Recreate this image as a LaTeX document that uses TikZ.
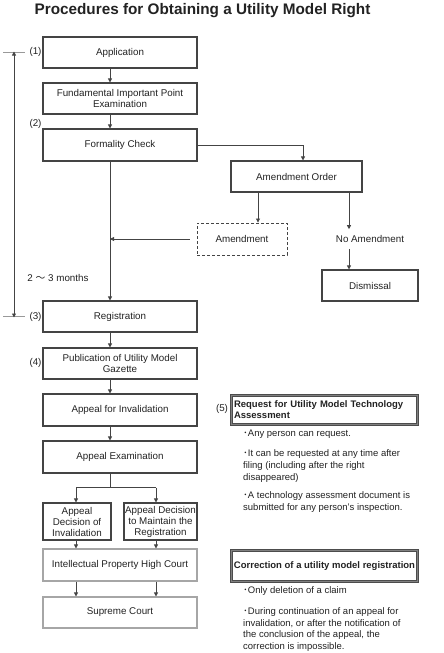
\documentclass[tikz,border=0pt]{standalone}
\usepackage{fontspec}
\setmainfont{Liberation Sans}
\newfontfamily\cjk{Noto Sans CJK JP}
\usetikzlibrary{arrows.meta}
\definecolor{ink}{HTML}{222222}
\definecolor{edge}{HTML}{444444}
\begin{document}
\begin{tikzpicture}[x=1pt,y=-1pt,
  txt/.style={font=\fontsize{9.8}{11}\selectfont, text=ink},
  box/.style={txt, draw=edge, line width=1.1pt, minimum width=154pt, minimum height=31pt, align=center, inner sep=1pt},
  lightbox/.style={box, draw=black!35},
  dashbox/.style={box, densely dashed, line width=0.9pt},
  dblbox/.style={txt, draw=black!70, line width=0.8pt, double=black!50, double distance=1.8pt, minimum width=186pt, inner sep=2pt},
  arr/.style={draw=edge, line width=0.8pt, -{Triangle[length=4pt,width=4pt]}},
  ln/.style={draw=edge, line width=0.8pt},
  dbl/.style={draw=edge, line width=0.8pt, {Triangle[length=4pt,width=4pt]}-{Triangle[length=4pt,width=4pt]}},
  tick/.style={draw=black!40, line width=0.6pt},
  lab/.style={txt},
  bul/.style={txt, font=\fontsize{9.5}{12}\selectfont, align=left, anchor=base west, inner sep=0pt}
]
\useasboundingbox (0,0) rectangle (444,653);
\node[font=\fontsize{15.3}{17}\selectfont\bfseries, text=ink] (title) at (202.5,10.5) {Procedures for Obtaining a Utility Model Right};

\coordinate (spine) at (110,0);
\coordinate (sidex) at (14,0);
\coordinate (dl) at (3,0);
\coordinate (dr) at (25,0);
\coordinate (c1) at (76,0);
\coordinate (c2) at (156,0);
\coordinate (nax) at (349,0);

\node[box] (app) at (120,52.5) {Application};
\node[box] (fund) at (120,98.5) {Fundamental Important Point\\Examination};
\node[box, minimum height=32pt] (form) at (120,145) {Formality Check};
\node[box, minimum width=131pt] (ao) at (296.5,176.5) {Amendment Order};
\node[dashbox, minimum width=90pt, minimum height=32pt] (amd) at (242,239) {Amendment};
\node[txt, inner xsep=1pt, inner ysep=6pt] (noamd) at (370,239) {No Amendment};
\node[box, minimum width=96pt] (dis) at (370,285.5) {Dismissal};
\node[box] (reg) at (120,316.5) {Registration};
\node[box] (pub) at (120,363.5) {Publication of Utility Model\\Gazette};
\node[box, minimum height=32pt] (inv) at (120,410) {Appeal for Invalidation};
\node[box, minimum height=32pt] (exam) at (120,457) {Appeal Examination};
\node[box, minimum width=68pt, minimum height=37pt, inner sep=0pt] (dinv) at (77,521.5) {Appeal\\Decision of\\Invalidation};
\node[box, minimum width=73pt, minimum height=37pt, inner sep=0pt] (dmain) at (160.5,521.5) {Appeal Decision\\to Maintain the\\Registration};
\node[lightbox, minimum height=32pt] (ip) at (120,565) {Intellectual Property High Court};
\node[lightbox] (sup) at (120,612.5) {Supreme Court};

\node[dblbox, minimum height=29pt, text width=181pt, align=left, font=\fontsize{9.5}{11}\selectfont\bfseries] (req) at (324.5,410) {Request for Utility Model Technology\\Assessment};
\node[dblbox, minimum height=31pt, align=center, inner sep=0pt, font=\fontsize{9.5}{11}\selectfont\bfseries] (corr) at (324.5,566) {Correction of a utility model registration};

% labels
\node[lab] (l1) at (35.5,52) {(1)};
\node[lab] (l2) at (35.5,124) {(2)};
\node[lab] (l3) at (35.5,317) {(3)};
\node[lab] (l4) at (35.5,363) {(4)};
\node[lab] (l5) at (222,409) {(5)};
\node[lab] (months) at (58,278) {2 {\cjk ～} 3 months};

% bullets (base = baseline of last line)
\node[bul] (b1) at (243,436.5) {{\cjk ･}Any person can request.};
\node[bul] (b2) at (243,480.5) {{\cjk ･}It can be requested at any time after\\filing (including after the right\\disappeared)};
\node[bul] (b3) at (243,510) {{\cjk ･}A technology assessment document is\\submitted for any person's inspection.};
\node[bul] (b4) at (243,593) {{\cjk ･}Only deletion of a claim};
\node[bul, font=\fontsize{9.5}{11.5}\selectfont] (b5) at (243,649) {{\cjk ･}During continuation of an appeal for\\invalidation, or after the notification of\\the conclusion of the appeal, the\\correction is impossible.};

% side timeline
\draw[tick] (app.west -| dl) -- (app.west -| dr);
\draw[tick] (reg.west -| dl) -- (reg.west -| dr);
\draw[dbl] ([yshift=1pt]app.west -| sidex) -- ([yshift=-1pt]reg.west -| sidex);

% connectors
\draw[arr] (app.south -| spine) -- (fund.north -| spine);
\draw[arr] (fund.south -| spine) -- (form.north -| spine);
\draw[arr] (form.east) -| ([xshift=6.5pt]ao.north);
\draw[arr] ([xshift=16pt]amd.north |- ao.south) -- ([xshift=16pt]amd.north);
\draw[arr] (ao.south -| nax) -- (noamd.north -| nax);
\draw[arr] (noamd.south -| nax) -- (dis.north -| nax);
\draw[arr] ([xshift=-7pt]amd.west) -- (amd.west -| spine);
\draw[arr] (form.south -| spine) -- (reg.north -| spine);
\draw[arr] (reg.south -| spine) -- (pub.north -| spine);
\draw[arr] (pub.south -| spine) -- (inv.north -| spine);
\draw[arr] (inv.south -| spine) -- (exam.north -| spine);
\draw[ln] (exam.south -| spine) -- ++(0,14) coordinate (split);
\draw[ln] (split -| c1) -- (split -| c2);
\draw[arr] (split -| c1) -- (dinv.north -| c1);
\draw[arr] (split -| c2) -- (dmain.north -| c2);
\draw[arr] (dinv.south -| c1) -- (ip.north -| c1);
\draw[arr] (dmain.south -| c2) -- (ip.north -| c2);
\draw[arr] (ip.south -| c1) -- (sup.north -| c1);
\draw[arr] (ip.south -| c2) -- (sup.north -| c2);
\end{tikzpicture}
\end{document}
